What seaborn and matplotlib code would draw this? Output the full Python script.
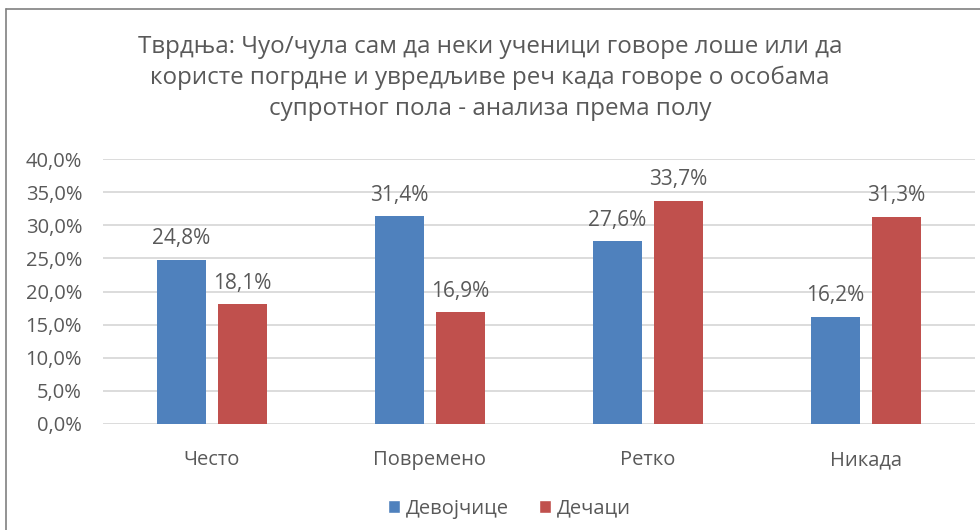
import matplotlib
matplotlib.use("Agg")
import matplotlib.pyplot as plt
import seaborn as sns
import pandas as pd
from matplotlib.lines import Line2D
from matplotlib.patches import Patch

categories = ["Често", "Повремено", "Ретко", "Никада"]
series_names = ["Девојчице", "Дечаци"]
girls = [24.8, 31.4, 27.6, 16.2]
boys = [18.1, 16.9, 33.7, 31.3]
yticks = [0, 5, 10, 15, 20, 25, 30, 35, 40]
title = ("Тврдња: Чуо/чула сам да неки ученици говоре лоше или да\n"
         "користе погрдне и увредљиве реч када говоре о особама\n"
         "супротног пола - анализа према полу")

colors = ["#4F81BD", "#C0504D"]
text_color = "#595959"

df = pd.DataFrame({
    "cat": categories * 2,
    "val": girls + boys,
    "pol": [series_names[0]] * 4 + [series_names[1]] * 4,
})

sns.set_theme(style="white")
plt.rcParams["font.family"] = ["Open Sans", "DejaVu Sans"]

fig = plt.figure(figsize=(9.8, 5.3), dpi=100)
ax = fig.add_axes([0.105, 0.2, 0.89, 0.5])

sns.barplot(data=df, x="cat", y="val", hue="pol", order=categories,
            hue_order=series_names, palette=colors, width=0.56, gap=0.21,
            saturation=1, ax=ax, legend=False, edgecolor="none", zorder=3)

ax.set_ylim(0, 40)
ax.set_xlim(-0.5, 3.5)
ax.set_yticks(yticks)
ax.set_yticklabels([f"{v:.1f}%".replace(".", ",") for v in yticks],
                   fontsize=14.5, color=text_color)
ax.tick_params(axis="x", labelsize=14.5, labelcolor=text_color, pad=19, length=0)
ax.tick_params(axis="y", length=0, pad=15)
ax.set_xlabel("")
ax.set_ylabel("")
for y in yticks:
    ax.axhline(y, color="#D9D9D9", lw=1.3, zorder=1)
for s in ax.spines.values():
    s.set_visible(False)

for cont in ax.containers:
    for bar in cont:
        h = bar.get_height()
        ax.annotate(f"{h:.1f}%".replace(".", ","),
                    (bar.get_x() + bar.get_width() / 2, h),
                    xytext=(0, 7.5), textcoords="offset points",
                    ha="center", va="bottom", fontsize=15, color=text_color)

fig.text(0.5, 0.853, title, ha="center", va="center", fontsize=17.4,
         color=text_color, linespacing=1.38)

handles = [Patch(facecolor=c, label=n) for c, n in zip(colors, series_names)]
fig.legend(handles=handles, loc="center", bbox_to_anchor=(0.52, 0.04),
           ncol=2, frameon=False, fontsize=14.5, handlelength=0.6,
           handleheight=0.6, handletextpad=0.3, columnspacing=1.5,
           labelcolor=text_color)

fig.add_artist(Line2D([0.006, 1.0], [0.983, 0.983], transform=fig.transFigure,
                      color="#808080", lw=1.2))
fig.add_artist(Line2D([0.006, 0.006], [0.0, 0.983], transform=fig.transFigure,
                      color="#808080", lw=1.2))

fig.savefig("out.png", dpi=100)
